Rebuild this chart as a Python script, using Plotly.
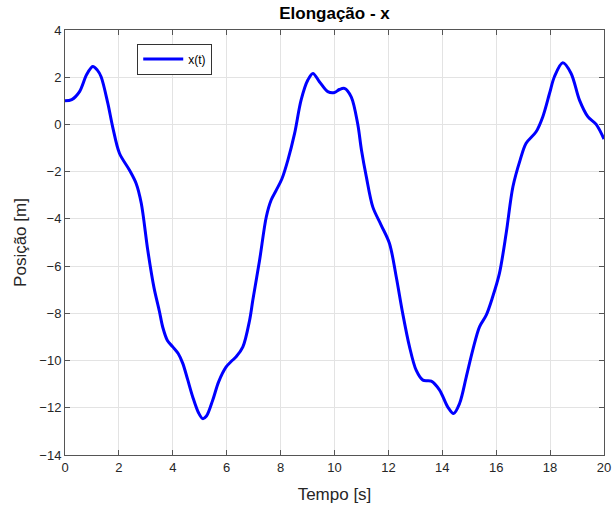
import plotly.graph_objects as go

t_vals = [0.0, 0.25, 0.54, 0.8, 1.03, 1.2, 1.34, 1.59, 1.77, 2.02, 2.39, 2.64, 2.83, 3.07,
          3.3, 3.5, 3.63, 3.8, 4.0, 4.2, 4.37, 4.55, 4.74, 4.95, 5.11, 5.25, 5.48, 5.7,
          5.98, 6.2, 6.35, 6.6, 6.85, 6.97, 7.22, 7.47, 7.65, 7.84, 8.05, 8.27, 8.52, 8.76,
          9.01, 9.2, 9.44, 9.75, 10.0, 10.18, 10.37, 10.62, 10.86, 11.0, 11.18, 11.42,
          11.73, 12.04, 12.29, 12.53, 12.78, 13.03, 13.28, 13.59, 13.9, 14.2, 14.42, 14.64,
          14.89, 15.13, 15.38, 15.63, 15.87, 16.12, 16.37, 16.62, 16.89, 17.11, 17.48,
          17.73, 17.98, 18.16, 18.47, 18.78, 19.09, 19.4, 19.71, 20.0]
x_vals = [1.0, 1.05, 1.39, 2.1, 2.45, 2.3, 2.02, 0.89, -0.11, -1.22, -1.93, -2.5, -3.34,
          -5.32, -6.9, -7.9, -8.6, -9.15, -9.42, -9.7, -10.12, -10.8, -11.54, -12.2, -12.46,
          -12.35, -11.68, -10.9, -10.27, -10.0, -9.84, -9.42, -8.29, -7.44, -5.75, -3.91,
          -3.2, -2.78, -2.3, -1.51, -0.38, 1.03, 1.88, 2.16, 1.81, 1.39, 1.35, 1.48, 1.53,
          1.17, 0.03, -1.08, -2.21, -3.49, -4.26, -5.04, -6.45, -8.0, -9.4, -10.41, -10.83,
          -10.87, -11.25, -11.96, -12.24, -11.82, -10.69, -9.56, -8.57, -8.08, -7.3, -6.31,
          -4.61, -2.64, -1.5, -0.8, -0.31, 0.33, 1.32, 2.02, 2.61, 2.16, 1.03, 0.33, 0.0,
          -0.62]

x_ticks = [0, 2, 4, 6, 8, 10, 12, 14, 16, 18, 20]
y_ticks = [4, 2, 0, -2, -4, -6, -8, -10, -12, -14]

FONT = "Liberation Sans, Arial, sans-serif"
AX = "#262626"

fig = go.Figure()
fig.add_trace(go.Scatter(x=t_vals, y=x_vals, mode="lines", name="x(t)",
                         line=dict(color="#0000ff", width=3, shape="spline", smoothing=0.9)))

axis_common = dict(showgrid=True, gridcolor="#e3e3e3", gridwidth=1, zeroline=False,
                   showline=True, linecolor="#555555", linewidth=1, mirror="allticks",
                   ticks="inside", ticklen=5, tickcolor="#555555", automargin=False,
                   tickfont=dict(family=FONT, size=13, color=AX))

fig.update_layout(
    width=614, height=513,
    margin=dict(l=65, r=10, t=30, b=58),
    paper_bgcolor="white", plot_bgcolor="white",
    title=dict(text="<b>Elongação - x</b>", x=(65 + 604) / 2 / 614, xanchor="center",
               y=1 - 13 / 513, yanchor="middle",
               font=dict(family=FONT, size=17, color="black")),
    xaxis=dict(range=[0, 20], tickvals=x_ticks, title=dict(text="Tempo [s]", standoff=14,
               font=dict(family=FONT, size=17, color=AX)), **axis_common),
    yaxis=dict(range=[-14, 4], tickvals=y_ticks, title=dict(text="Posição [m]", standoff=8,
               font=dict(family=FONT, size=17, color=AX)), **axis_common),
    legend=dict(x=0.134, y=0.968, xanchor="left", yanchor="top",
                bgcolor="white", bordercolor="#333333", borderwidth=1,
                font=dict(family=FONT, size=12, color="black"),
                itemwidth=40, tracegroupgap=0),
    showlegend=True,
)

fig.write_html("out.html")
